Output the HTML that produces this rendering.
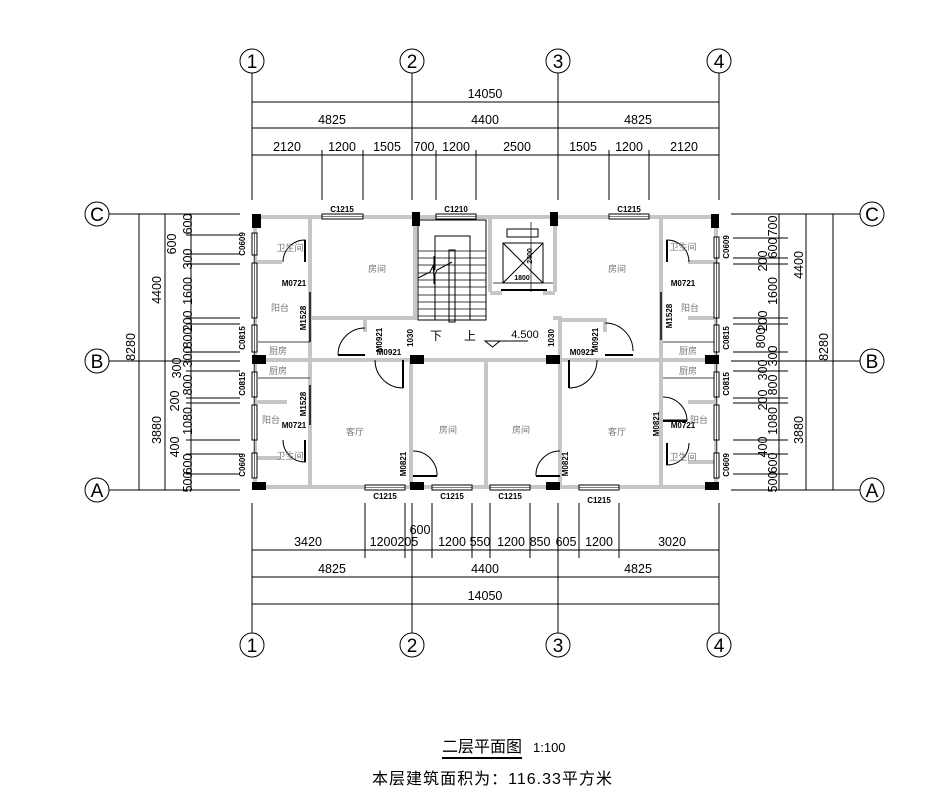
<!DOCTYPE html>
<html><head><meta charset="utf-8"><style>
html,body{margin:0;padding:0;background:#fff}
svg{display:block}
text{font-family:"Liberation Sans Narrow","Liberation Sans","Noto Sans CJK SC",sans-serif}
.d{font-size:12.5px;fill:#000}
.s{font-size:8px;font-weight:bold;fill:#000}
.r{font-size:9px;fill:#777;font-family:"Liberation Serif","Noto Serif CJK SC",serif}
</style></head><body>
<svg width="951" height="806" viewBox="0 0 951 806" xmlns="http://www.w3.org/2000/svg">
<rect width="951" height="806" fill="#fff"/>
<g stroke="#000" stroke-width="1" fill="none">
<line x1="252" y1="73" x2="252" y2="200"/><line x1="412" y1="73" x2="412" y2="200"/>
<line x1="558" y1="73" x2="558" y2="200"/><line x1="719" y1="73" x2="719" y2="200"/>
<line x1="252" y1="102" x2="719" y2="102"/><line x1="252" y1="128" x2="719" y2="128"/><line x1="252" y1="155" x2="719" y2="155"/>
<line x1="322" y1="150" x2="322" y2="200"/><line x1="363" y1="150" x2="363" y2="200"/>
<line x1="436" y1="150" x2="436" y2="200"/><line x1="476" y1="150" x2="476" y2="200"/>
<line x1="609" y1="150" x2="609" y2="200"/><line x1="649" y1="150" x2="649" y2="200"/>
<line x1="252" y1="503" x2="252" y2="633"/><line x1="412" y1="503" x2="412" y2="633"/>
<line x1="558" y1="503" x2="558" y2="633"/><line x1="719" y1="503" x2="719" y2="633"/>
<line x1="252" y1="550" x2="719" y2="550"/><line x1="252" y1="577" x2="719" y2="577"/><line x1="252" y1="604" x2="719" y2="604"/>
<line x1="365" y1="503" x2="365" y2="558"/><line x1="405" y1="503" x2="405" y2="558"/>
<line x1="432" y1="503" x2="432" y2="558"/><line x1="472" y1="503" x2="472" y2="558"/>
<line x1="490" y1="503" x2="490" y2="558"/><line x1="530" y1="503" x2="530" y2="558"/>
<line x1="579" y1="503" x2="579" y2="558"/><line x1="619" y1="503" x2="619" y2="558"/>
<line x1="109" y1="214" x2="240" y2="214"/><line x1="109" y1="361" x2="240" y2="361"/><line x1="109" y1="490" x2="240" y2="490"/>
<line x1="139" y1="214" x2="139" y2="490"/><line x1="165" y1="214" x2="165" y2="490"/><line x1="191" y1="214" x2="191" y2="490"/>
<g>
<line x1="186" y1="235" x2="240" y2="235"/><line x1="186" y1="254" x2="240" y2="254"/><line x1="186" y1="264" x2="240" y2="264"/>
<line x1="186" y1="318" x2="240" y2="318"/><line x1="186" y1="324" x2="240" y2="324"/><line x1="186" y1="352" x2="240" y2="352"/>
<line x1="186" y1="371" x2="240" y2="371"/><line x1="186" y1="398" x2="240" y2="398"/><line x1="186" y1="403" x2="240" y2="403"/>
<line x1="186" y1="440" x2="240" y2="440"/><line x1="186" y1="454" x2="240" y2="454"/><line x1="186" y1="474" x2="240" y2="474"/>
</g>
<line x1="731" y1="214" x2="860" y2="214"/><line x1="731" y1="361" x2="860" y2="361"/><line x1="731" y1="490" x2="860" y2="490"/>
<line x1="779" y1="214" x2="779" y2="490"/><line x1="806" y1="214" x2="806" y2="490"/><line x1="833" y1="214" x2="833" y2="490"/>
<g>
<line x1="733" y1="238" x2="788" y2="238"/><line x1="733" y1="258" x2="788" y2="258"/><line x1="733" y1="264" x2="788" y2="264"/>
<line x1="733" y1="318" x2="788" y2="318"/><line x1="733" y1="324" x2="788" y2="324"/><line x1="733" y1="352" x2="788" y2="352"/>
<line x1="733" y1="371" x2="788" y2="371"/><line x1="733" y1="398" x2="788" y2="398"/><line x1="733" y1="403" x2="788" y2="403"/>
<line x1="733" y1="440" x2="788" y2="440"/><line x1="733" y1="454" x2="788" y2="454"/><line x1="733" y1="474" x2="788" y2="474"/>
</g>
<circle cx="252" cy="61" r="12"/><circle cx="412" cy="61" r="12"/><circle cx="558" cy="61" r="12"/><circle cx="719" cy="61" r="12"/>
<circle cx="252" cy="645" r="12"/><circle cx="412" cy="645" r="12"/><circle cx="558" cy="645" r="12"/><circle cx="719" cy="645" r="12"/>
<circle cx="97" cy="214" r="12"/><circle cx="97" cy="361" r="12"/><circle cx="97" cy="490" r="12"/>
<circle cx="872" cy="214" r="12"/><circle cx="872" cy="361" r="12"/><circle cx="872" cy="490" r="12"/>
</g>
<g font-family="Liberation Serif,serif" font-size="19" text-anchor="middle" fill="#000">
<text x="252" y="68">1</text><text x="412" y="68">2</text><text x="558" y="68">3</text><text x="719" y="68">4</text>
<text x="252" y="652">1</text><text x="412" y="652">2</text><text x="558" y="652">3</text><text x="719" y="652">4</text>
<text x="97" y="221">C</text><text x="97" y="368">B</text><text x="97" y="497">A</text>
<text x="872" y="221">C</text><text x="872" y="368">B</text><text x="872" y="497">A</text>
</g>
<g class="d" text-anchor="middle">
<text x="485" y="98">14050</text>
<text x="332" y="124">4825</text><text x="485" y="124">4400</text><text x="638" y="124">4825</text>
<text x="287" y="151">2120</text><text x="342" y="151">1200</text><text x="387" y="151">1505</text>
<text x="424" y="151">700</text><text x="456" y="151">1200</text><text x="517" y="151">2500</text>
<text x="583" y="151">1505</text><text x="629" y="151">1200</text><text x="684" y="151">2120</text>
<text x="308" y="546">3420</text><text x="394" y="546">1200205</text><text x="420" y="534">600</text>
<text x="452" y="546">1200</text><text x="480" y="546">550</text><text x="511" y="546">1200</text>
<text x="540" y="546">850</text><text x="566" y="546">605</text><text x="599" y="546">1200</text><text x="672" y="546">3020</text>
<text x="332" y="573">4825</text><text x="485" y="573">4400</text><text x="638" y="573">4825</text>
<text x="485" y="600">14050</text>
</g>
<g class="d" text-anchor="middle">
<text transform="translate(135,347) rotate(-90)">8280</text>
<text transform="translate(161,290) rotate(-90)">4400</text>
<text transform="translate(161,430) rotate(-90)">3880</text>
<text transform="translate(192,224) rotate(-90)">600</text>
<text transform="translate(176,244) rotate(-90)">600</text>
<text transform="translate(192,259) rotate(-90)">300</text>
<text transform="translate(192,291) rotate(-90)">1600</text>
<text transform="translate(192,321) rotate(-90)">200</text>
<text transform="translate(192,338) rotate(-90)">800</text>
<text transform="translate(192,357) rotate(-90)">300</text>
<text transform="translate(181,368) rotate(-90)">300</text>
<text transform="translate(192,385) rotate(-90)">800</text>
<text transform="translate(179,401) rotate(-90)">200</text>
<text transform="translate(192,421) rotate(-90)">1080</text>
<text transform="translate(179,447) rotate(-90)">400</text>
<text transform="translate(192,464) rotate(-90)">600</text>
<text transform="translate(192,482) rotate(-90)">500</text>
<text transform="translate(828,347) rotate(-90)">8280</text>
<text transform="translate(803,265) rotate(-90)">4400</text>
<text transform="translate(803,430) rotate(-90)">3880</text>
<text transform="translate(777,226) rotate(-90)">700</text>
<text transform="translate(777,248) rotate(-90)">600</text>
<text transform="translate(767,261) rotate(-90)">200</text>
<text transform="translate(777,291) rotate(-90)">1600</text>
<text transform="translate(767,321) rotate(-90)">200</text>
<text transform="translate(765,338) rotate(-90)">800</text>
<text transform="translate(777,356) rotate(-90)">300</text>
<text transform="translate(767,370) rotate(-90)">300</text>
<text transform="translate(777,385) rotate(-90)">800</text>
<text transform="translate(767,400) rotate(-90)">200</text>
<text transform="translate(777,421) rotate(-90)">1080</text>
<text transform="translate(767,447) rotate(-90)">400</text>
<text transform="translate(777,463) rotate(-90)">600</text>
<text transform="translate(777,482) rotate(-90)">500</text>
</g>
<g stroke="#c6c6c6" stroke-width="4" fill="none" stroke-linecap="square">
<line x1="255" y1="217" x2="716" y2="217"/>
<line x1="255" y1="487" x2="716" y2="487"/>
<line x1="255" y1="217" x2="255" y2="487"/>
<line x1="716" y1="217" x2="716" y2="487"/>
<line x1="310" y1="217" x2="310" y2="487"/>
<line x1="661" y1="217" x2="661" y2="487"/>
<line x1="255" y1="360" x2="412" y2="360"/>
<line x1="558" y1="360" x2="716" y2="360"/>
<line x1="412" y1="360" x2="558" y2="360"/>
<line x1="415" y1="217" x2="415" y2="318"/>
<line x1="411" y1="360" x2="411" y2="487"/>
<line x1="486" y1="360" x2="486" y2="487"/>
<line x1="560" y1="320" x2="560" y2="487"/>
<line x1="555" y1="217" x2="555" y2="290"/>
<line x1="490" y1="217" x2="490" y2="290"/>
<polyline points="310,318 365,318 365,330"/>
<polyline points="412,318 365,318"/>
<polyline points="560,320 605,320 605,330"/>
<line x1="555" y1="318" x2="560" y2="318"/>
<line x1="258" y1="262" x2="280" y2="262"/><line x1="258" y1="458" x2="278" y2="458"/>
<line x1="690" y1="262" x2="714" y2="262"/><line x1="690" y1="462" x2="714" y2="462"/>
<line x1="690" y1="318" x2="714" y2="318"/><line x1="258" y1="402" x2="285" y2="402"/>
<line x1="690" y1="402" x2="714" y2="402"/>
<line x1="492" y1="293" x2="500" y2="293"/><line x1="545" y1="293" x2="553" y2="293"/>
</g>
<g stroke="#444" stroke-width="1" fill="none">
<line x1="258" y1="342" x2="310" y2="342"/><line x1="258" y1="378" x2="310" y2="378"/>
<line x1="663" y1="342" x2="714" y2="342"/><line x1="663" y1="378" x2="714" y2="378"/>
</g>
<g fill="#fff" stroke="#000" stroke-width="1">
<rect x="322" y="214" width="41" height="5"/><rect x="436" y="214" width="40" height="5"/><rect x="609" y="214" width="40" height="5"/>
<rect x="365" y="485" width="40" height="5"/><rect x="432" y="485" width="40" height="5"/><rect x="490" y="485" width="40" height="5"/><rect x="579" y="485" width="40" height="5"/>
<rect x="252" y="233" width="5" height="22"/><rect x="252" y="263" width="5" height="55"/><rect x="252" y="325" width="5" height="27"/>
<rect x="252" y="372" width="5" height="25"/><rect x="252" y="405" width="5" height="35"/><rect x="252" y="453" width="5" height="25"/>
<rect x="714" y="237" width="5" height="21"/><rect x="714" y="263" width="5" height="55"/><rect x="714" y="325" width="5" height="27"/>
<rect x="714" y="372" width="5" height="25"/><rect x="714" y="405" width="5" height="35"/><rect x="714" y="453" width="5" height="25"/>
</g>
<g stroke="#000" stroke-width="0.6">
<line x1="322" y1="216.5" x2="363" y2="216.5"/><line x1="436" y1="216.5" x2="476" y2="216.5"/><line x1="609" y1="216.5" x2="649" y2="216.5"/>
<line x1="365" y1="487.5" x2="405" y2="487.5"/><line x1="432" y1="487.5" x2="472" y2="487.5"/><line x1="490" y1="487.5" x2="530" y2="487.5"/><line x1="579" y1="487.5" x2="619" y2="487.5"/>
<line x1="254.5" y1="233" x2="254.5" y2="478"/><line x1="716.5" y1="237" x2="716.5" y2="478"/>
</g>
<g fill="#000">
<rect x="252" y="214" width="9" height="14"/><rect x="252" y="355" width="14" height="9"/><rect x="252" y="482" width="14" height="8"/>
<rect x="412" y="212" width="8" height="14"/><rect x="410" y="355" width="14" height="9"/><rect x="410" y="482" width="14" height="8"/>
<rect x="550" y="212" width="8" height="14"/><rect x="546" y="355" width="14" height="9"/><rect x="546" y="482" width="14" height="8"/>
<rect x="711" y="214" width="8" height="14"/><rect x="705" y="355" width="14" height="9"/><rect x="705" y="482" width="14" height="8"/>
</g>
<g stroke="#000" stroke-width="1" fill="none">
<path d="M305,262 L305,240 A22,22 0 0 0 283,262"/><line x1="305" y1="240" x2="305" y2="262" stroke-width="2"/>
<path d="M305,440 L305,462 A22,22 0 0 1 283,440"/><line x1="305" y1="440" x2="305" y2="462" stroke-width="2"/>
<path d="M667,262 L667,240 A22,22 0 0 1 689,262"/><line x1="667" y1="240" x2="667" y2="262" stroke-width="2"/>
<path d="M667,443 L667,465 A22,22 0 0 0 689,443"/><line x1="667" y1="443" x2="667" y2="465" stroke-width="2"/>
<path d="M663,420 L687,420 L687,421 A24,24 0 0 0 663,397"/><line x1="663" y1="421" x2="687" y2="421" stroke-width="2"/>
<line x1="310" y1="292" x2="310" y2="342" stroke-width="1.5"/><line x1="310" y1="385" x2="310" y2="425" stroke-width="1.5"/>
<line x1="661" y1="292" x2="661" y2="340" stroke-width="1.5"/>
<path d="M338,355 A27,27 0 0 1 365,328"/><line x1="338" y1="355" x2="365" y2="355" stroke-width="2"/>
<path d="M375,360 A28,28 0 0 0 403,388"/><line x1="403" y1="360" x2="403" y2="388" stroke-width="2"/>
<path d="M605,323 A28,28 0 0 1 633,351"/><line x1="605" y1="355" x2="633" y2="355" stroke-width="2"/>
<path d="M597,360 A28,28 0 0 1 569,388"/><line x1="569" y1="360" x2="569" y2="388" stroke-width="2"/>
<path d="M413,451 A24,24 0 0 1 437,476"/><line x1="413" y1="476" x2="437" y2="476" stroke-width="2"/>
<path d="M560,451 A24,24 0 0 0 536,476"/><line x1="536" y1="476" x2="560" y2="476" stroke-width="2"/>
<rect x="418" y="220" width="68" height="100"/>
<polyline points="435,320 435,236 470,236 470,320"/>
<rect x="449" y="250" width="6" height="72"/>
<g stroke-width="0.8">
<line x1="418" y1="251" x2="486" y2="251"/><line x1="418" y1="258" x2="486" y2="258"/><line x1="418" y1="265" x2="486" y2="265"/>
<line x1="418" y1="273" x2="486" y2="273"/><line x1="418" y1="280" x2="486" y2="280"/><line x1="418" y1="287" x2="486" y2="287"/>
<line x1="418" y1="295" x2="486" y2="295"/><line x1="418" y1="302" x2="486" y2="302"/><line x1="418" y1="309" x2="486" y2="309"/>
<line x1="418" y1="316" x2="486" y2="316"/>
</g>
<polyline points="418,278 430,272 433,266 434,276 437,270 452,262" fill="#fff"/>
<line x1="434" y1="256" x2="434" y2="284"/>
<rect x="503" y="243" width="40" height="40"/>
<line x1="503" y1="243" x2="543" y2="283"/><line x1="543" y1="243" x2="503" y2="283"/>
<rect x="507" y="229" width="31" height="8"/>
<line x1="531" y1="222" x2="531" y2="292" stroke-width="0.7"/>
<line x1="493" y1="283" x2="553" y2="283" stroke-width="0.7"/>
<line x1="501" y1="290" x2="547" y2="290" stroke-width="2"/>
<path d="M485,341 L500,341 L492.5,347 Z"/><line x1="485" y1="341" x2="528" y2="341"/>
</g>
<g class="s" text-anchor="middle">
<text x="342" y="212">C1215</text><text x="456" y="212">C1210</text><text x="629" y="212">C1215</text>
<text x="385" y="499">C1215</text><text x="452" y="499">C1215</text><text x="510" y="499">C1215</text><text x="599" y="503">C1215</text>
<text x="294" y="286">M0721</text><text x="294" y="428">M0721</text><text x="683" y="286">M0721</text><text x="683" y="428">M0721</text>
<text x="389" y="355">M0921</text><text x="582" y="355">M0921</text>
<text x="522" y="280" font-size="7">1800</text>
<text transform="translate(245,244) rotate(-90)">C0609</text>
<text transform="translate(245,338) rotate(-90)">C0815</text>
<text transform="translate(245,384) rotate(-90)">C0815</text>
<text transform="translate(245,465) rotate(-90)">C0609</text>
<text transform="translate(729,247) rotate(-90)">C0609</text>
<text transform="translate(729,338) rotate(-90)">C0815</text>
<text transform="translate(729,384) rotate(-90)">C0815</text>
<text transform="translate(729,465) rotate(-90)">C0609</text>
<text transform="translate(306,318) rotate(-90)">M1528</text>
<text transform="translate(306,404) rotate(-90)">M1528</text>
<text transform="translate(672,316) rotate(-90)">M1528</text>
<text transform="translate(382,340) rotate(-90)">M0921</text>
<text transform="translate(598,340) rotate(-90)">M0921</text>
<text transform="translate(413,338) rotate(-90)">1030</text>
<text transform="translate(554,338) rotate(-90)">1030</text>
<text transform="translate(406,464) rotate(-90)">M0821</text>
<text transform="translate(568,464) rotate(-90)">M0821</text>
<text transform="translate(659,424) rotate(-90)">M0821</text>
<text transform="translate(532,256) rotate(-90)" font-size="7">2400</text>
</g>
<g class="r" text-anchor="middle">
<text x="377" y="272">房间</text><text x="617" y="272">房间</text>
<text x="448" y="433">房间</text><text x="521" y="433">房间</text>
<text x="355" y="435">客厅</text><text x="617" y="435">客厅</text>
<text x="280" y="311">阳台</text><text x="271" y="423">阳台</text>
<text x="690" y="311">阳台</text><text x="699" y="423">阳台</text>
<text x="278" y="354">厨房</text><text x="278" y="374">厨房</text>
<text x="688" y="354">厨房</text><text x="688" y="374">厨房</text>
<text x="290" y="251">卫生间</text><text x="290" y="459">卫生间</text>
<text x="683" y="250">卫生间</text><text x="683" y="460">卫生间</text>
</g>
<g font-family="Liberation Serif,'Noto Serif CJK SC',serif" font-size="12" fill="#000" text-anchor="middle">
<text x="436" y="340">下</text><text x="470" y="340">上</text>
</g>
<text x="525" y="338" font-size="11" text-anchor="middle" font-family="Liberation Sans,sans-serif">4.500</text>
<text x="442" y="752" font-size="16" font-family="'Noto Sans CJK SC',sans-serif" textLength="80">二层平面图</text>
<line x1="442" y1="758" x2="522" y2="758" stroke="#000" stroke-width="2"/>
<text x="533" y="752" font-size="13" font-family="Liberation Sans Narrow,Liberation Sans,sans-serif">1:100</text>
<text x="372" y="784" font-size="16" font-family="'Liberation Serif','Noto Serif CJK SC',serif" textLength="240">本层建筑面积为：116.33平方米</text>
</svg>
</body></html>
